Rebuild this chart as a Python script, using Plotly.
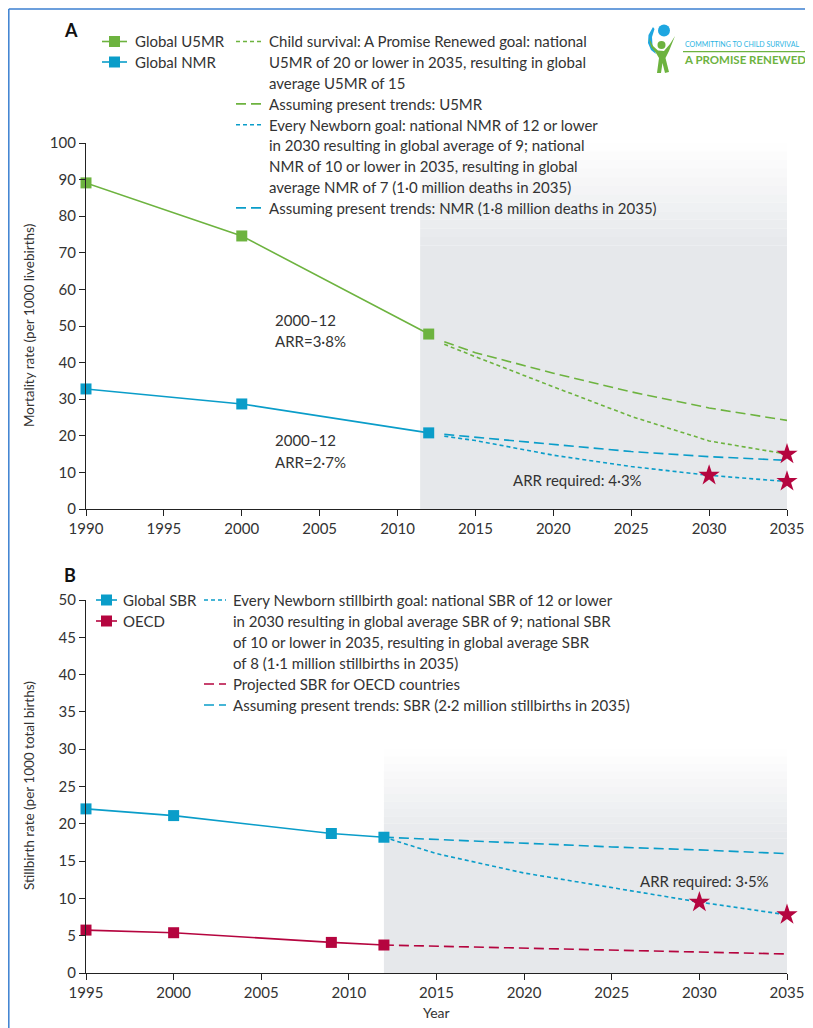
import plotly.graph_objects as go

# figure is placed by the page at an 8px body offset; size it to fit the 813x1028 window
OFF = 8
FW, FH = 813 - OFF, 1028 - OFF

# ---------------- data: panel A ----------------
a_years = [1990, 2000, 2012]
u5mr = [89.1, 74.6, 47.8]
nmr = [32.8, 28.7, 20.8]
a_proj_years = [2013, 2015, 2020, 2025, 2030, 2035]
u5mr_trend = [45.7, 42.7, 37.1, 32.0, 27.6, 24.2]
u5mr_goal = [45.0, 41.6, 33.4, 25.3, 18.6, 15.0]
nmr_trend = [20.4, 19.6, 17.5, 15.7, 14.3, 13.3]
nmr_goal = [19.9, 18.7, 14.7, 11.6, 9.2, 7.5]
a_star_years = [2030, 2035, 2035]
a_star_vals = [9.2, 7.5, 15.0]
a_shade = [2011.45, 2035]

# ---------------- data: panel B ----------------
b_years = [1995, 2000, 2009, 2012]
sbr = [22.0, 21.1, 18.7, 18.2]
oecd = [5.75, 5.4, 4.1, 3.75]
b_proj_years = [2012, 2015, 2020, 2025, 2030, 2035]
sbr_trend = [18.2, 17.9, 17.4, 16.9, 16.5, 16.0]
sbr_goal = [18.2, 16.0, 13.4, 11.4, 9.5, 7.8]
oecd_proj = [3.75, 3.6, 3.3, 3.1, 2.85, 2.55]
b_star_years = [2030, 2035]
b_star_vals = [9.5, 7.8]
b_shade = [2012.0, 2035]

a_xticks = list(range(1990, 2036, 5))
a_yticks = list(range(0, 101, 10))
b_xticks = list(range(1995, 2036, 5))
b_yticks = list(range(0, 51, 5))

GREEN = "#6db33f"
BLUE = "#0a9dc9"
RED = "#b5053f"
TXT = "#333333"
FONT = "Lato"


def X(p):
    return (p - OFF) / FW


def Y(p):
    return 1 - (p - OFF) / FH


fig = go.Figure()

def line(x, y, color, xa, ya, dash=None, marker=False, name=""):
    fig.add_trace(go.Scatter(
        x=x, y=y, xaxis=xa, yaxis=ya, name=name,
        mode="lines+markers" if marker else "lines",
        line=dict(color=color, width=1.6, dash=dash),
        marker=dict(symbol="square", size=11, color=color),
        cliponaxis=False, showlegend=False, hoverinfo="skip"))

LONG = "10px,5px"
SHORT = "4px,3px"

# panel A
line(a_proj_years, u5mr_trend, GREEN, "x", "y", LONG)
line(a_proj_years, u5mr_goal, GREEN, "x", "y", SHORT)
line(a_proj_years, nmr_trend, BLUE, "x", "y", LONG)
line(a_proj_years, nmr_goal, BLUE, "x", "y", SHORT)
line(a_years, u5mr, GREEN, "x", "y", marker=True, name="Global U5MR")
line(a_years, nmr, BLUE, "x", "y", marker=True, name="Global NMR")
fig.add_trace(go.Scatter(x=a_star_years, y=a_star_vals, xaxis="x", yaxis="y", mode="markers",
                         marker=dict(symbol="star", size=16, color=RED), cliponaxis=False,
                         showlegend=False, hoverinfo="skip"))

# panel B
line(b_proj_years, sbr_trend, BLUE, "x2", "y2", LONG)
line(b_proj_years, sbr_goal, BLUE, "x2", "y2", SHORT)
line(b_proj_years, oecd_proj, RED, "x2", "y2", LONG)
line(b_years, sbr, BLUE, "x2", "y2", marker=True, name="Global SBR")
line(b_years, oecd, RED, "x2", "y2", marker=True, name="OECD")
fig.add_trace(go.Scatter(x=b_star_years, y=b_star_vals, xaxis="x2", yaxis="y2", mode="markers",
                         marker=dict(symbol="star", size=16, color=RED), cliponaxis=False,
                         showlegend=False, hoverinfo="skip"))

shapes = []
# shaded projection periods with a soft gradient towards the top
def shade(xr, xref, yref, y0, y1, fade_from, n=12):
    shapes.append(dict(type="rect", xref=xref, yref=yref, x0=xr[0], x1=xr[1], y0=y0,
                       y1=fade_from, fillcolor="#e6e8eb", line=dict(width=0), layer="below"))
    step = (y1 - fade_from) / n
    for i in range(n):
        op = 1 - (i + 0.5) / n
        shapes.append(dict(type="rect", xref=xref, yref=yref, x0=xr[0], x1=xr[1],
                           y0=fade_from + i * step, y1=fade_from + (i + 1) * step,
                           fillcolor="#e6e8eb", opacity=op, line=dict(width=0), layer="below"))

shade(a_shade, "x", "y", 0, 100, 72)
shade(b_shade, "x2", "y2", 0, 30, 18)

# blue frame (left and top edges)
shapes.append(dict(type="line", xref="paper", yref="paper", x0=0.001, x1=0.001, y0=0.999, y1=0,
                   line=dict(color="#3b7fd0", width=1.5)))
shapes.append(dict(type="line", xref="paper", yref="paper", x0=0.001, x1=1, y0=0.999, y1=0.999,
                   line=dict(color="#3b7fd0", width=1.5)))

ann = []

def text(x, y, s, size=15, color=TXT, anchor="left", bold=False, xref="paper", yref="paper", angle=0):
    ann.append(dict(x=x, y=y, xref=xref, yref=yref, text=("<b>%s</b>" % s) if bold else s,
                    showarrow=False, xanchor=anchor, yanchor="middle", textangle=angle,
                    font=dict(family=FONT, size=size, color=color)))

def leg_solid(xs, xe, y, color, label, tx):
    shapes.append(dict(type="line", xref="paper", yref="paper", x0=X(xs), x1=X(xe),
                       y0=Y(y), y1=Y(y), line=dict(color=color, width=1.6)))
    m = (xs + xe) / 2
    shapes.append(dict(type="rect", xref="paper", yref="paper", x0=X(m - 5.5), x1=X(m + 5.5),
                       y0=Y(y + 5.5), y1=Y(y - 5.5), fillcolor=color, line=dict(width=0)))
    text(X(tx), Y(y), label)

def leg_dash(xs, xe, y0, color, dash, lines, tx, step=20.8):
    shapes.append(dict(type="line", xref="paper", yref="paper", x0=X(xs), x1=X(xe),
                       y0=Y(y0), y1=Y(y0), line=dict(color=color, width=1.6, dash=dash)))
    for i, s in enumerate(lines):
        text(X(tx), Y(y0 + i * step), s)
    return y0 + len(lines) * step

# panel A legend
leg_solid(102, 127, 41.5, GREEN, "Global U5MR", 133)
leg_solid(102, 127, 62, BLUE, "Global NMR", 133)
yy = 41.5
yy = leg_dash(236, 262, yy, GREEN, SHORT, [
    "Child survival: A Promise Renewed goal: national",
    "U5MR of 20 or lower in 2035, resulting in global",
    "average U5MR of 15"], 267)
yy = leg_dash(236, 262, yy, GREEN, LONG, ["Assuming present trends: U5MR"], 267)
yy = leg_dash(236, 262, yy, BLUE, SHORT, [
    "Every Newborn goal: national NMR of 12 or lower",
    "in 2030 resulting in global average of 9; national",
    "NMR of 10 or lower in 2035, resulting in global",
    "average NMR of 7 (1·0 million deaths in 2035)"], 267)
yy = leg_dash(236, 262, yy, BLUE, LONG, ["Assuming present trends: NMR (1·8 million deaths in 2035)"], 267)

# panel B legend
leg_solid(96, 117, 600, BLUE, "Global SBR", 121)
leg_solid(96, 117, 621, RED, "OECD", 121)
yy = 600
yy = leg_dash(204, 226, yy, BLUE, SHORT, [
    "Every Newborn stillbirth goal: national SBR of 12 or lower",
    "in 2030 resulting in global average SBR of 9; national SBR",
    "of 10 or lower in 2035, resulting in global average SBR",
    "of 8 (1·1 million stillbirths in 2035)"], 231, step=21)
yy = leg_dash(204, 226, yy, RED, LONG, ["Projected SBR for OECD countries"], 231, step=21)
yy = leg_dash(204, 226, yy, BLUE, LONG, ["Assuming present trends: SBR (2·2 million stillbirths in 2035)"], 231, step=21)

# panel letters
text(X(62), Y(30), "A", size=18, color="#111", bold=True, anchor="left")
text(X(62), Y(575), "B", size=18, color="#111", bold=True, anchor="left")

# axis titles
text(X(29), Y(326), "Mortality rate (per 1000 livebirths)", size=13.5, anchor="center", angle=-90)
text(X(29), Y(786), "Stillbirth rate (per 1000 total births)", size=13.5, anchor="center", angle=-90)
text(X(436.5), Y(1012), "Year", size=14, anchor="center")

# data-anchored annotations
text(2002.0, 51.6, "2000–12", xref="x", yref="y")
text(2002.0, 45.9, "ARR=3·8%", xref="x", yref="y")
text(2002.0, 18.9, "2000–12", xref="x", yref="y")
text(2002.0, 12.8, "ARR=2·7%", xref="x", yref="y")
text(2017.3, 7.9, "ARR required: 4·3%", xref="x", yref="y")
text(2026.5, 12.3, "ARR required: 3·5%", xref="x2", yref="y2")

# logo
text(X(683), Y(44), "COMMITTING TO CHILD SURVIVAL", size=7, color="#2cb5e3")
shapes.append(dict(type="line", xref="paper", yref="paper", x0=X(683), x1=X(805), y0=Y(51.7), y1=Y(51.7),
                   line=dict(color=GREEN, width=1.2)))
text(X(682), Y(59.3), "A PROMISE RENEWED", size=11.5, color=GREEN, bold=True)
shapes.append(dict(type="circle", xref="paper", yref="paper", x0=X(658), x1=X(670), y0=Y(36.5), y1=Y(24.5),
                   fillcolor="#1ea6e0", line=dict(width=0)))
shapes.append(dict(type="circle", xref="paper", yref="paper", x0=X(657.5), x1=X(665.5), y0=Y(49), y1=Y(41),
                   fillcolor=GREEN, line=dict(width=0)))

def P(pts):
    return "M " + " L ".join("%f,%f" % (X(a), Y(b)) for a, b in pts) + " Z"

# blue swoosh left
shapes.append(dict(type="path", xref="paper", yref="paper",
                   path=P([(653, 27), (648.5, 35), (648, 43), (651, 50), (656, 54), (652.5, 45),
                           (652, 37), (654.5, 29)]),
                   fillcolor="#1ea6e0", line=dict(width=0)))
# green body / arms
shapes.append(dict(type="path", xref="paper", yref="paper",
                   path=P([(649, 38), (651, 47), (656, 53), (659, 58), (657, 73), (661, 73), (662.5, 63),
                           (665, 73), (669, 72), (665.5, 58), (669, 51), (675, 36), (670, 44), (664, 51),
                           (658, 50.5), (653, 46)]),
                   fillcolor=GREEN, line=dict(width=0)))

axis_common = dict(showgrid=False, zeroline=False, showline=True, linecolor="#222", linewidth=1.2,
                   ticks="outside", ticklen=6, tickcolor="#222", tickwidth=1.2, automargin=False,
                   tickfont=dict(family=FONT, size=15, color=TXT))

fig.update_layout(
    width=FW, height=FH, margin=dict(l=0, r=0, t=0, b=0, autoexpand=False),
    paper_bgcolor="white", plot_bgcolor="rgba(0,0,0,0)",
    showlegend=False, shapes=shapes, annotations=ann,
    xaxis=dict(domain=[X(86), X(787)], range=[1990, 2035], tickvals=a_xticks, anchor="y", **axis_common),
    yaxis=dict(domain=[Y(509), Y(143)], range=[0, 100], tickvals=a_yticks, anchor="x", **axis_common),
    xaxis2=dict(domain=[X(86), X(787)], range=[1995, 2035], tickvals=b_xticks, anchor="y2", **axis_common),
    yaxis2=dict(domain=[Y(973), Y(600)], range=[0, 50], tickvals=b_yticks, anchor="x2", **axis_common),
)

fig.write_html("out.html")
